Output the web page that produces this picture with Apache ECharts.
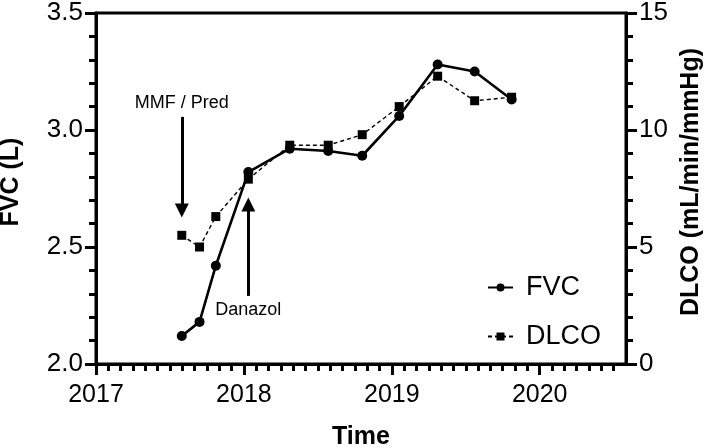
<!DOCTYPE html>
<html>
<head>
<meta charset="utf-8">
<script src="https://cdn.jsdelivr.net/npm/echarts@6/dist/echarts.min.js"></script>
<style>
html,body{margin:0;padding:0;background:#fff;}
#c{width:709px;height:448px;}
</style>
</head>
<body>
<div id="c"></div>
<script>
// ---- data (decimal years) ----
const dates = [2017.58, 2017.70, 2017.81, 2018.03, 2018.31, 2018.57, 2018.80, 2019.05, 2019.31, 2019.56, 2019.81];
const fvc   = [2.12, 2.18, 2.42, 2.82, 2.92, 2.91, 2.89, 3.06, 3.28, 3.25, 3.13];
const dlco  = [5.5, 5.0, 6.3, 7.9, 9.35, 9.35, 9.8, 11.0, 12.3, 11.25, 11.4];
const yearTicks = [2017, 2018, 2019, 2020];
const xMin = 2017, xMax = 2017 + 43 / 12;
// annotations: [label, date, arrow start FVC, arrow tip FVC]
const mmf = ['MMF / Pred', 2017.58, 3.056, 2.656];
const danazol = ['Danazol', 2018.03, 2.291, 2.682];

const monthTicks = [];
for (let m = 0; m <= 42; m++) monthTicks.push(xMin + m / 12);

const FONT = 'Liberation Sans, Arial, Helvetica, sans-serif';
const K = '#000';

const chart = echarts.init(document.getElementById('c'), null, {renderer: 'canvas'});

function arrow(a) {
  return [
    {coord: [a[1], a[2]], label: {show: true, position: 'start', formatter: a[0], fontSize: 18, fontFamily: FONT, color: K, distance: 5}},
    {coord: [a[1], a[3]]}
  ];
}

chart.setOption({
  animation: false,
  grid: {left: 96, right: 83, top: 13, bottom: 84, outerBoundsMode: 'none', containLabel: false,
         show: true, borderColor: K, borderWidth: 3, backgroundColor: 'transparent'},
  xAxis: [{
    type: 'value', min: xMin, max: xMax, position: 'bottom',
    name: 'Time', nameLocation: 'middle', nameGap: 61,
    nameTextStyle: {fontSize: 25, fontWeight: 'bold', fontFamily: FONT, color: K},
    axisLine: {show: true, lineStyle: {color: K, width: 3}},
    axisTick: {show: true, inside: false, customValues: yearTicks, length: 11, lineStyle: {color: K, width: 3}},
    axisLabel: {show: true, inside: false, customValues: yearTicks, margin: 19, fontSize: 25, fontFamily: FONT, color: K, formatter: v => String(Math.round(v))},
    splitLine: {show: false}
  }, {
    type: 'value', min: xMin, max: xMax, position: 'bottom', offset: 0,
    axisLine: {show: false},
    axisTick: {show: true, inside: false, customValues: monthTicks, length: 7, lineStyle: {color: K, width: 3}},
    axisLabel: {show: false},
    splitLine: {show: false}
  }],
  yAxis: [{
    type: 'value', min: 2.0, max: 3.5, interval: 0.5, position: 'left',
    name: 'FVC (L)', nameLocation: 'middle', nameGap: 72,
    nameTextStyle: {fontSize: 25, fontWeight: 'bold', fontFamily: FONT, color: K, padding: [0, 0, 0, 13]},
    axisLine: {show: true, lineStyle: {color: K, width: 3}},
    axisTick: {show: true, inside: false, length: 11, lineStyle: {color: K, width: 3}},
    minorTick: {show: true, splitNumber: 5, length: 7, lineStyle: {color: K, width: 3}},
    axisLabel: {inside: false, margin: 13, fontSize: 26, fontFamily: FONT, color: K, formatter: v => v.toFixed(1)},
    splitLine: {show: false}
  }, {
    type: 'value', min: 0, max: 15, interval: 5, position: 'right',
    name: 'DLCO (mL/min/mmHg)', nameLocation: 'middle', nameGap: 52, nameRotate: 90,
    nameTextStyle: {fontSize: 25, fontWeight: 'bold', fontFamily: FONT, color: K, padding: [0, 0, 0, 13]},
    axisLine: {show: true, lineStyle: {color: K, width: 3}},
    axisTick: {show: true, inside: false, length: 11, lineStyle: {color: K, width: 3}},
    minorTick: {show: true, splitNumber: 5, length: 7, lineStyle: {color: K, width: 3}},
    axisLabel: {inside: false, margin: 13, fontSize: 26, fontFamily: FONT, color: K},
    splitLine: {show: false}
  }],
  legend: {
    orient: 'vertical', left: 487, top: 274, padding: 0,
    itemWidth: 25, itemHeight: 10, itemGap: 22,
    textStyle: {fontSize: 27, fontFamily: FONT, color: K, padding: [0, 0, 0, 8]},
    data: ['FVC', 'DLCO']
  },
  series: [{
    name: 'DLCO', type: 'line', yAxisIndex: 1,
    data: dates.map((d, i) => [d, dlco[i]]),
    symbol: 'rect', symbolSize: 9,
    lineStyle: {color: K, width: 1.4, type: [4, 3]},
    itemStyle: {color: K},
    z: 2
  }, {
    name: 'FVC', type: 'line', yAxisIndex: 0,
    data: dates.map((d, i) => [d, fvc[i]]),
    symbol: 'circle', symbolSize: 10,
    lineStyle: {color: K, width: 2.6},
    itemStyle: {color: K},
    z: 3,
    markLine: {
      silent: true, animation: false,
      symbol: ['none', 'triangle'], symbolSize: 14,
      lineStyle: {color: K, width: 3, type: 'solid'},
      data: [arrow(mmf), arrow(danazol)]
    }
  }]
});
</script>
</body>
</html>
